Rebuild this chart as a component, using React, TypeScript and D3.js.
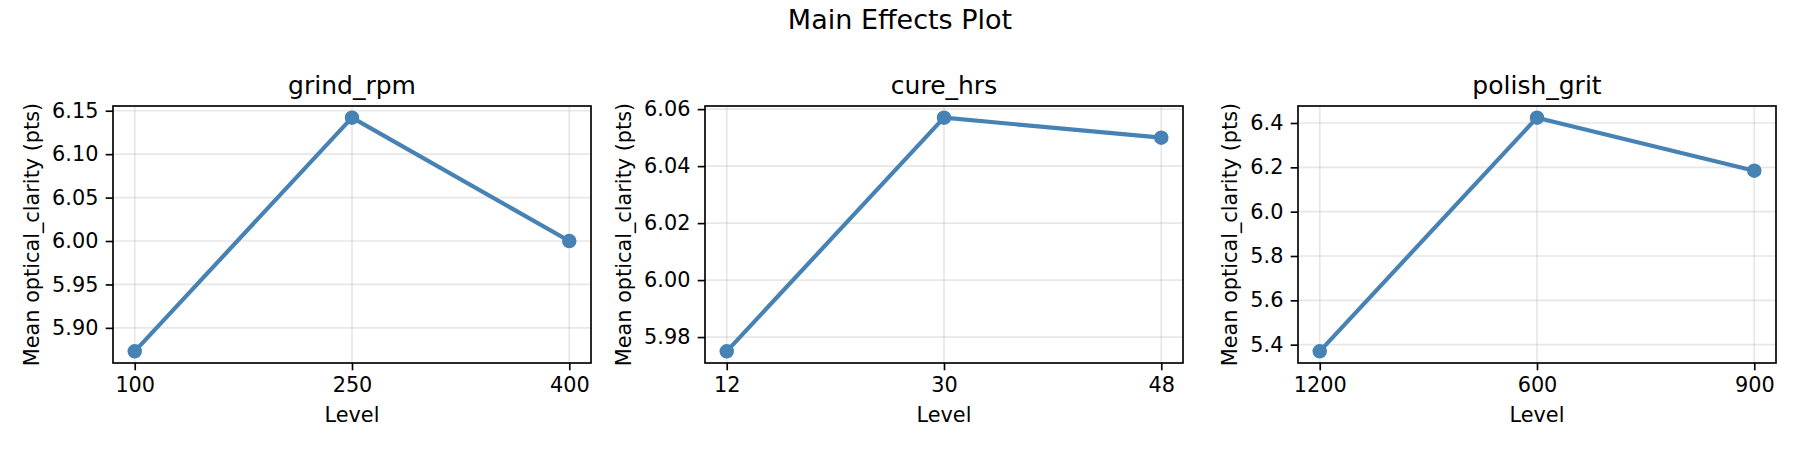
import React, { useEffect, useRef } from 'react';
import * as d3 from 'd3';

// factor names and levels (in plotted order)
const factorNames = ['grind_rpm', 'cure_hrs', 'polish_grit'];

const grindLevels = ['100', '250', '400'];
const grindMeans = [5.873, 6.142, 6.0];
const grindTicks = [5.9, 5.95, 6.0, 6.05, 6.1, 6.15];

const cureLevels = ['12', '30', '48'];
const cureMeans = [5.975, 6.057, 6.05];
const cureTicks = [5.98, 6.0, 6.02, 6.04, 6.06];

const polishLevels = ['1200', '600', '900'];
const polishMeans = [5.37, 6.424, 6.185];
const polishTicks = [5.4, 5.6, 5.8, 6.0, 6.2, 6.4];

const panels = [
  { name: factorNames[0], levels: grindLevels, means: grindMeans, ticks: grindTicks, fmt: '.2f' },
  { name: factorNames[1], levels: cureLevels, means: cureMeans, ticks: cureTicks, fmt: '.2f' },
  { name: factorNames[2], levels: polishLevels, means: polishMeans, ticks: polishTicks, fmt: '.1f' },
];

const W = 1800;
const H = 450;
const FONT = '"DejaVu Sans", sans-serif';
const panelLeft = [113, 705, 1298];
const panelW = 478;
const plotTop = 106;
const plotBottom = 363;
const tickLen = 7.3;
const tickPad = 7.3;
const lineW = 1.67;
const color = '#4682b4';

export default function App() {
  const svgRef = useRef<SVGSVGElement>(null);

  useEffect(() => {
    document.body.style.margin = '0';
    const svg = d3.select(svgRef.current);
    svg.selectAll('*').remove();
    svg.append('rect').attr('width', W).attr('height', H).attr('fill', '#fff');

    svg
      .append('text')
      .attr('x', W / 2)
      .attr('y', 28.5)
      .attr('text-anchor', 'middle')
      .attr('font-family', FONT)
      .attr('font-size', 27)
      .text('Main Effects Plot');

    panels.forEach((p, i) => {
      const left = panelLeft[i];
      const right = left + panelW;
      const x = d3.scalePoint<string>().domain(p.levels).range([left, right]).padding(0.1);
      const lo = d3.min(p.means) as number;
      const hi = d3.max(p.means) as number;
      const m = (hi - lo) * 0.05;
      const y = d3.scaleLinear().domain([lo - m, hi + m]).range([plotBottom, plotTop]);

      const g = svg.append('g');

      // grid
      g.selectAll('.hgrid')
        .data(p.ticks)
        .join('line')
        .attr('x1', left)
        .attr('x2', right)
        .attr('y1', (d) => y(d))
        .attr('y2', (d) => y(d))
        .attr('stroke', '#b0b0b0')
        .attr('stroke-opacity', 0.3)
        .attr('stroke-width', lineW);
      g.selectAll('.vgrid')
        .data(p.levels)
        .join('line')
        .attr('x1', (d) => x(d) as number)
        .attr('x2', (d) => x(d) as number)
        .attr('y1', plotTop)
        .attr('y2', plotBottom)
        .attr('stroke', '#b0b0b0')
        .attr('stroke-opacity', 0.3)
        .attr('stroke-width', lineW);

      // axes
      const xAxis = d3.axisBottom(x).tickSize(tickLen).tickPadding(tickPad).tickSizeOuter(0);
      const xg = g.append('g').attr('transform', `translate(0,${plotBottom})`).call(xAxis);
      const yAxis = d3
        .axisLeft(y)
        .tickValues(p.ticks)
        .tickFormat(d3.format(p.fmt))
        .tickSize(tickLen)
        .tickPadding(tickPad)
        .tickSizeOuter(0);
      const yg = g.append('g').attr('transform', `translate(${left},0)`).call(yAxis);
      [xg, yg].forEach((ag) => {
        ag.select('.domain').remove();
        ag.attr('font-size', 20.8).attr('font-family', FONT);
        ag.selectAll('line').attr('stroke', '#000').attr('stroke-width', lineW);
        ag.selectAll('text').attr('fill', '#000');
      });

      // data line and markers
      const pts = p.levels.map((lv, k) => [x(lv) as number, y(p.means[k])] as [number, number]);
      g.append('path')
        .attr('d', d3.line()(pts) as string)
        .attr('fill', 'none')
        .attr('stroke', color)
        .attr('stroke-width', 4.17)
        .attr('stroke-linejoin', 'round');
      g.selectAll('.dot')
        .data(pts)
        .join('circle')
        .attr('cx', (d) => d[0])
        .attr('cy', (d) => d[1])
        .attr('r', 6.25)
        .attr('fill', color)
        .attr('stroke', color)
        .attr('stroke-width', 2);

      // frame
      g.append('rect')
        .attr('x', left)
        .attr('y', plotTop)
        .attr('width', panelW)
        .attr('height', plotBottom - plotTop)
        .attr('fill', 'none')
        .attr('stroke', '#000')
        .attr('stroke-width', lineW);

      // subplot title
      g.append('text')
        .attr('x', (left + right) / 2)
        .attr('y', plotTop - 12.5)
        .attr('text-anchor', 'middle')
        .attr('font-family', FONT)
        .attr('font-size', 25)
        .text(p.name);

      // x label
      g.append('text')
        .attr('x', (left + right) / 2)
        .attr('y', 422)
        .attr('text-anchor', 'middle')
        .attr('font-family', FONT)
        .attr('font-size', 20.8)
        .text('Level');

      // y label, placed left of the widest tick label
      const bb = (yg.node() as SVGGElement).getBBox();
      const labelX = left + bb.x - 8.3 - 4.9;
      g.append('text')
        .attr('transform', `translate(${labelX},${(plotTop + plotBottom) / 2}) rotate(-90)`)
        .attr('text-anchor', 'middle')
        .attr('font-family', FONT)
        .attr('font-size', 20.8)
        .text('Mean optical_clarity (pts)');
    });
  }, []);

  return <svg ref={svgRef} width={W} height={H} style={{ display: 'block' }}></svg>;
}
